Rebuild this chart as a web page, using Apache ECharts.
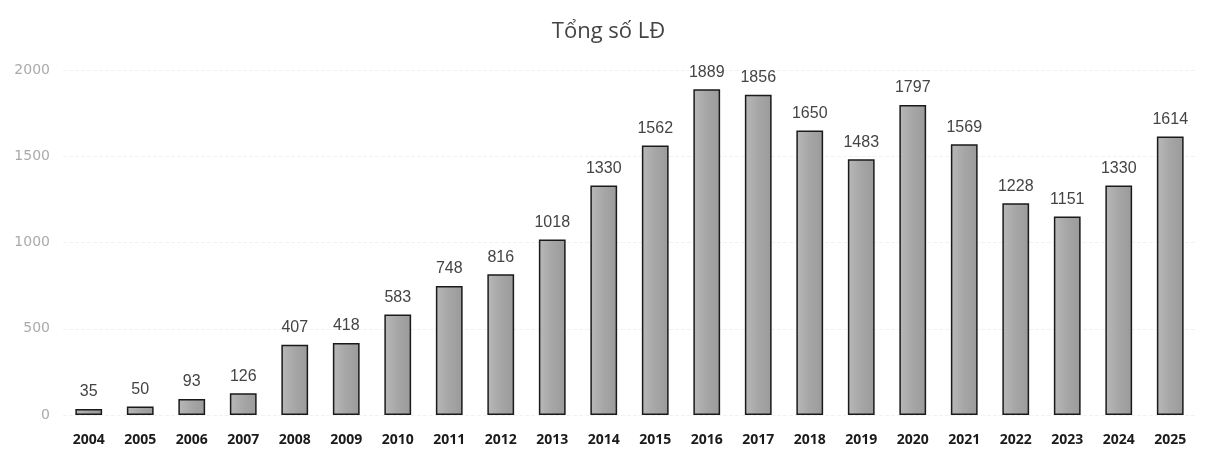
<!DOCTYPE html>
<html><head><meta charset="utf-8">
<script src="https://cdn.jsdelivr.net/npm/echarts@6/dist/echarts.min.js"></script>
<style>html,body{margin:0;padding:0;background:#fff}#c{width:1217px;height:472px}</style>
</head><body><div id="c"></div>
<script>
const categories = ['2004','2005','2006','2007','2008','2009','2010','2011','2012','2013','2014','2015','2016','2017','2018','2019','2020','2021','2022','2023','2024','2025'];
const values = [35,50,93,126,407,418,583,748,816,1018,1330,1562,1889,1856,1650,1483,1797,1569,1228,1151,1330,1614];
const yTicks = [0,500,1000,1500,2000];
const chart = echarts.init(document.getElementById('c'));
chart.setOption({
  animation:false,
  title:{text:'Tổng số LĐ',left:'center',top:16,textStyle:{fontFamily:'Open Sans',fontSize:22,fontWeight:'normal',color:'#444'}},
  grid:{left:63,right:21,top:70,bottom:57},
  xAxis:{type:'category',data:categories,axisLine:{show:false},axisTick:{show:false},
    axisLabel:{fontFamily:'Open Sans',fontSize:14,fontWeight:'bold',color:'#1a1a1a',margin:18}},
  yAxis:{type:'value',min:yTicks[0],max:yTicks[yTicks.length-1],interval:500,
    axisLabel:{fontFamily:'DejaVu Sans',fontSize:14,color:'#aaa',margin:13,formatter:v=>String(v)},
    splitLine:{lineStyle:{color:'#f2f2f2',type:'dashed'}}},
  series:[{type:'bar',data:values,barWidth:'52%',
    itemStyle:{color:new echarts.graphic.LinearGradient(0,0,1,0,[{offset:0,color:'#b8b8b8'},{offset:0.5,color:'#a6a6a6'},{offset:1,color:'#9a9a9a'}]),borderColor:'#1a1a1a',borderWidth:1.5},
    label:{show:true,position:'top',distance:9,fontFamily:'Liberation Sans',fontSize:16,color:'#444'}}]
});
</script></body></html>
